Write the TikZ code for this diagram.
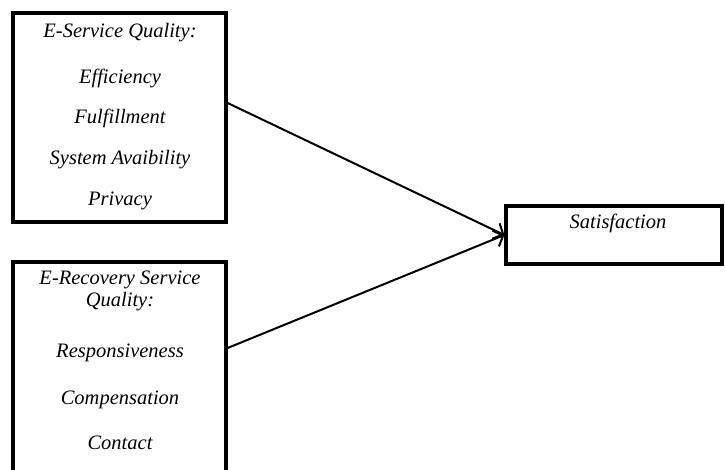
\documentclass[tikz,border=0pt]{standalone}
\usepackage{fontspec}
\setmainfont{Liberation Serif}
\usetikzlibrary{
	arrows,
	arrows.meta,
}

\begin{document}
\begin{tikzpicture}[x=1pt,y=-1pt,
        box/.style={draw,line width=3.2pt,inner sep=0pt},
        lbl/.style={font=\fontsize{20.5}{23}\selectfont\itshape,inner sep=0pt},
        link/.style={-{Straight Barb[length=8pt,width=17pt,line width=2pt]},line width=2pt}]
            \clip (0,0) rectangle (725,469);
            
            \node[box,minimum width=213pt,minimum height=209pt] (eq) at (119.5,117.5) {};
            \node[lbl] (eq1) at (120,33)  {E-Service Quality:};
            \node[lbl] (eq2) at (120,78)  {Efficiency};
            \node[lbl] (eq3) at (120,118) {Fulfillment};
            \node[lbl] (eq4) at (120,160) {System Avaibility};
            \node[lbl] (eq5) at (120,201) {Privacy};
            
            \node[box,minimum width=213pt,minimum height=218pt] (rq) at (119.5,371) {};
            \node[lbl] (rq1) at (120,280) {E-Recovery Service};
            \node[lbl] (rq2) at (120,302) {Quality:};
            \node[lbl] (rq3) at (120,353) {Responsiveness};
            \node[lbl] (rq4) at (120,400) {Compensation};
            \node[lbl] (rq5) at (120,443) {Contact};
            
            \node[box,minimum width=216pt,minimum height=58pt] (sat) at (614,235) {};
            \node[lbl] (sat1) at (618,223) {Satisfaction};
            
            \draw[link] ([yshift=14.5pt]eq.east) -- (sat.west);
            \draw[link] ([yshift=23pt]rq.east) -- (sat.west);
	\end{tikzpicture}
\end{document}
